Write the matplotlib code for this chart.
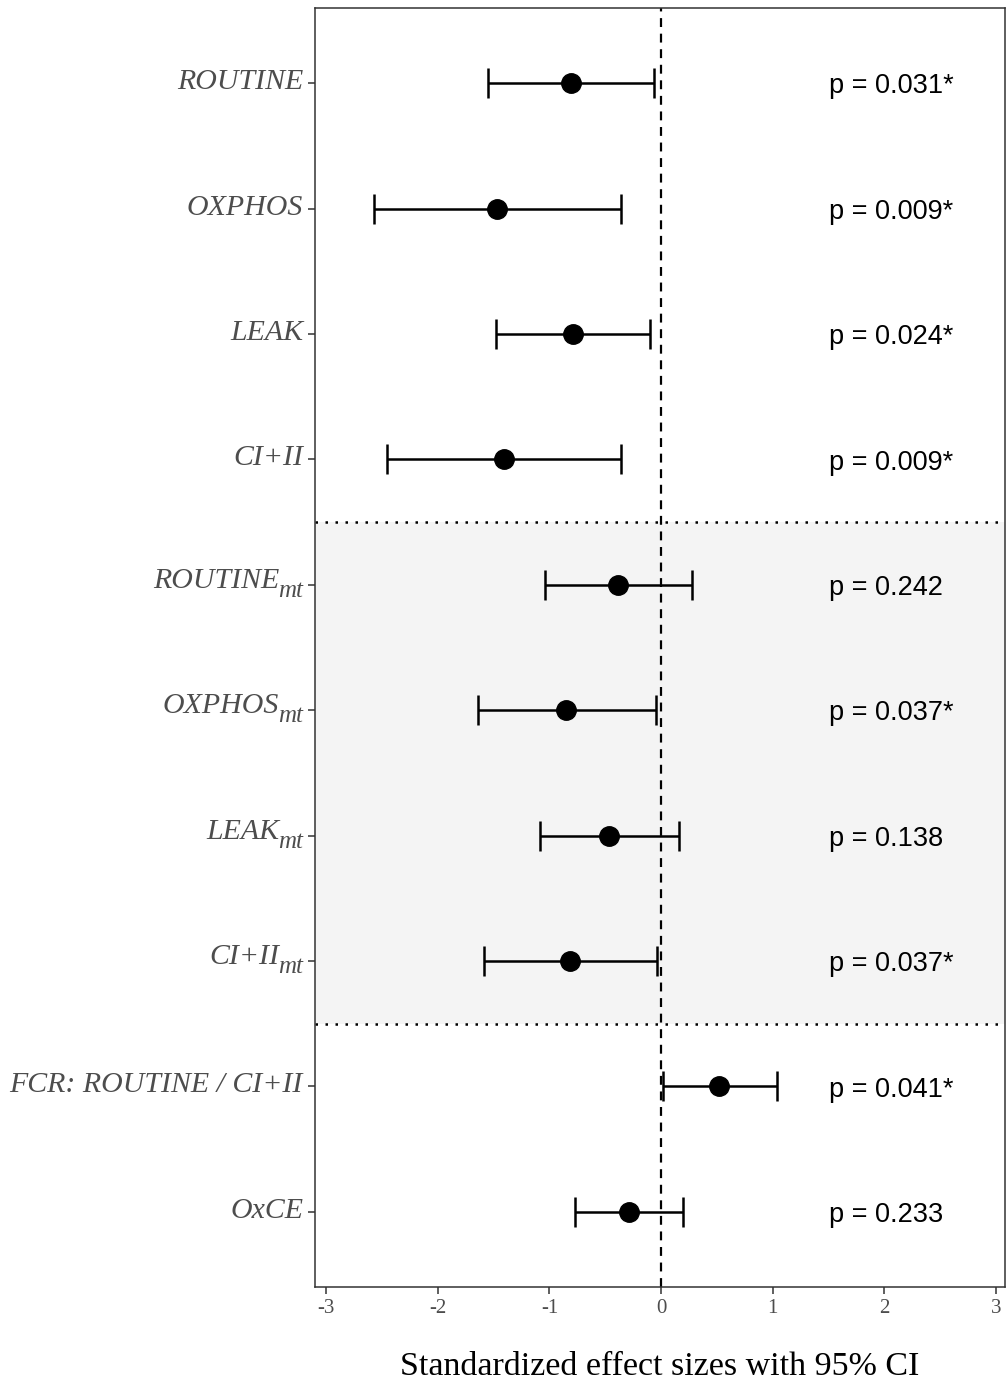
import matplotlib
matplotlib.use("Agg")
import matplotlib.pyplot as plt
from matplotlib.transforms import offset_copy

# Effect sizes with 95% CI, rows from top to bottom
labels = ["ROUTINE", "OXPHOS", "LEAK", "CI+II",
          "ROUTINE", "OXPHOS", "LEAK", "CI+II",
          "FCR: ROUTINE / CI+II", "OxCE"]
subscripts = ["", "", "", "", "mt", "mt", "mt", "mt", "", ""]
estimate = [-0.805, -1.467, -0.787, -1.404, -0.385, -0.850, -0.465, -0.814, 0.519, -0.286]
ci_low = [-1.547, -2.576, -1.476, -2.451, -1.038, -1.637, -1.082, -1.583, 0.018, -0.769]
ci_high = [-0.063, -0.358, -0.098, -0.358, 0.277, -0.045, 0.161, -0.036, 1.038, 0.197]
p_text = ["p = 0.031*", "p = 0.009*", "p = 0.024*", "p = 0.009*",
          "p = 0.242", "p = 0.037*", "p = 0.138", "p = 0.037*",
          "p = 0.041*", "p = 0.233"]
x_ticks = [-3, -2, -1, 0, 1, 2, 3]

fig = plt.figure(figsize=(10.07, 13.83), dpi=100)
ax = fig.add_axes([315 / 1007, 1 - 1287 / 1383, 690 / 1007, 1279 / 1383])

ypos = list(range(1, len(labels) + 1))

# shaded block for mitochondria-normalised rows
ax.axhspan(4.5, 8.5, color="#f4f4f4", zorder=0, lw=0)
for yy in [4.5, 8.5]:
    ax.axhline(yy, color="black", ls=(0, (1, 3)), lw=1.8, zorder=1)
ax.axvline(0, color="black", ls=(0, (4, 3)), lw=1.6, zorder=1)

xerr = [[e - l for e, l in zip(estimate, ci_low)],
        [h - e for e, h in zip(estimate, ci_high)]]
ax.errorbar(estimate, ypos, xerr=xerr, fmt="o", color="black", ms=14,
            elinewidth=1.8, capsize=10.5, capthick=1.8, zorder=3)

for y, t in zip(ypos, p_text):
    ax.text(1.5, y + 0.025, t, ha="left", va="center", fontsize=19.5,
            family="Liberation Sans", color="black")

ax.set_xlim(-3.1, 3.08)
ax.set_ylim(10.6, 0.4)
ax.set_yticks(ypos)
ax.set_yticklabels([""] * len(ypos))
ax.set_xticks(x_ticks)
ax.set_xticklabels([str(v) for v in x_ticks], family="Liberation Serif",
                   fontsize=15, color="#4d4d4d")
ax.tick_params(axis="both", length=5, width=1.1, color="#333333")
ax.set_xlabel("Standardized effect sizes with 95% CI", family="Liberation Serif",
              fontsize=24.5, labelpad=24)
for s in ax.spines.values():
    s.set_color("#333333")
    s.set_linewidth(1.1)

# y labels drawn by hand so the subscript can be sized like the reference
ytrans = ax.get_yaxis_transform()
renderer = fig.canvas.get_renderer()
for y, lab, sub in zip(ypos, labels, subscripts):
    right = -12
    up = 1
    if sub:
        st = ax.text(0, y, sub, transform=offset_copy(ytrans, fig, x=right, y=-6, units="dots"),
                     ha="right", va="center", fontsize=18, family="Liberation Serif",
                     style="italic", color="#4d4d4d")
        right -= st.get_window_extent(renderer).width - 1
        up = 4
    ax.text(0, y, lab, transform=offset_copy(ytrans, fig, x=right, y=up, units="dots"),
            ha="right", va="center", fontsize=21.5, family="Liberation Serif",
            style="italic", color="#4d4d4d")

fig.savefig("out.png", dpi=100)
